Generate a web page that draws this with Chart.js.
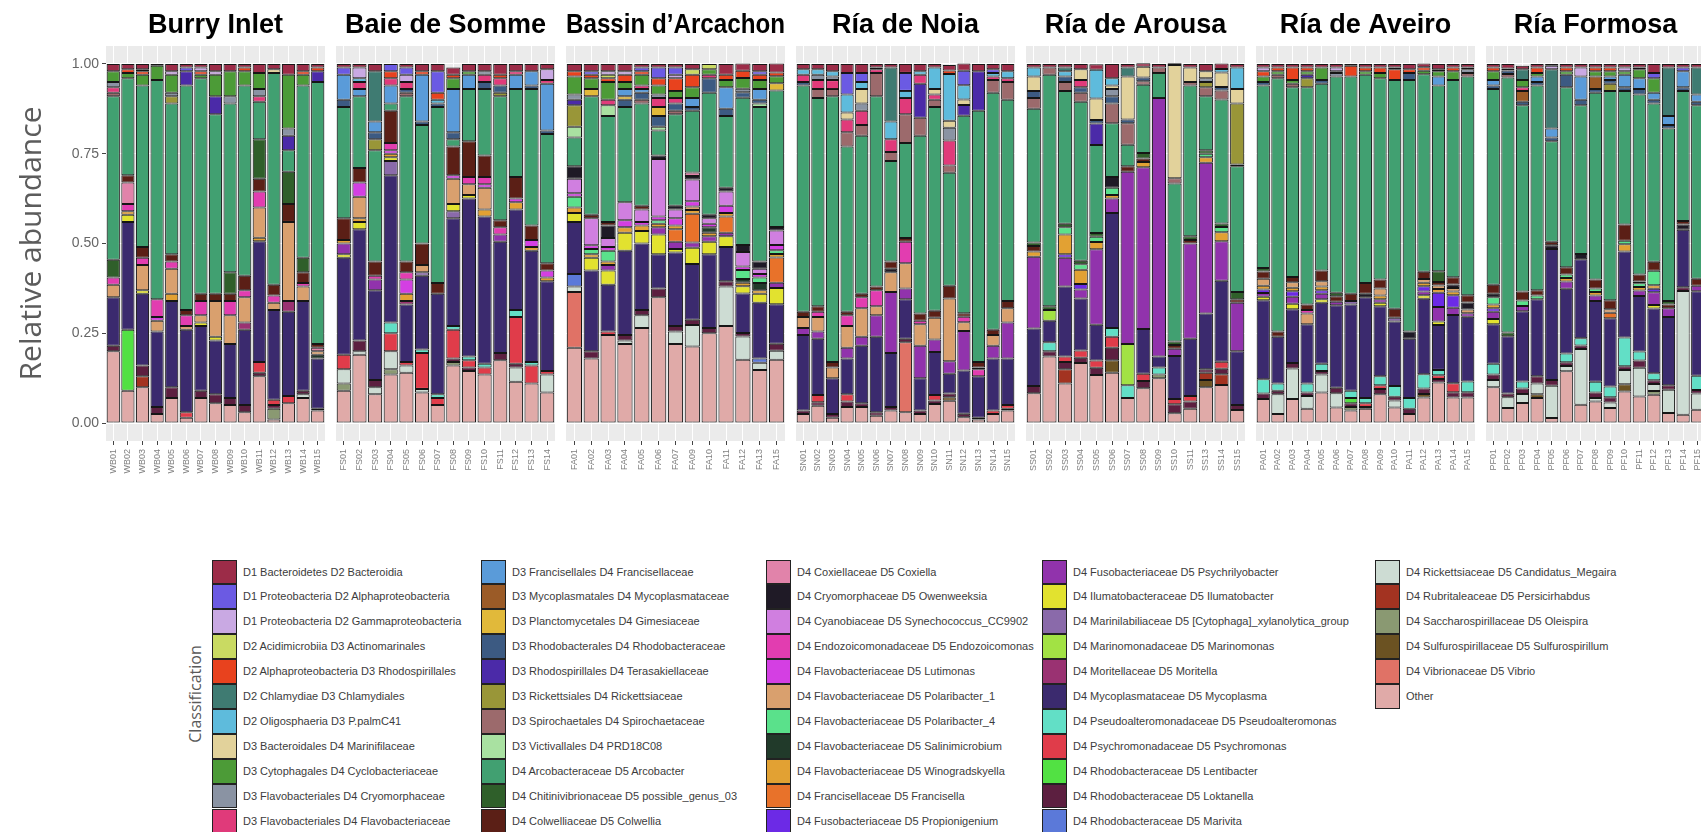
<!DOCTYPE html>
<html>
<head>
<meta charset="utf-8">
<title>Relative abundance by site</title>
<script src="https://cdn.jsdelivr.net/npm/chart.js@4.4.1/dist/chart.umd.min.js"></script>
<style>
  html, body { margin: 0; padding: 0; background: #fff; }
  body { position: relative; width: 1701px; height: 832px; overflow: hidden; font-family: "Liberation Sans", Arial, sans-serif; }
  canvas.panel { position: absolute; top: 0; }
  .key { position: absolute; width: 25px; height: 24.9px; box-sizing: border-box; border: 1px solid #222; }
  .lab { position: absolute; font-size: 11px; color: #3c3c3c; white-space: nowrap; line-height: 24.9px; }
  #legendTitle { position: absolute; left: 195px; top: 694px; transform: translate(-50%, -50%) rotate(-90deg); font: 16px "Open Sans"; color: #595959; white-space: nowrap; }
</style>
</head>
<body>
<div id="legendTitle">Classification</div>
<script>
// taxa, top of the stack first (legend order)
const taxa = [
  'D1 Bacteroidetes D2 Bacteroidia', 'D1 Proteobacteria D2 Alphaproteobacteria', 'D1 Proteobacteria D2 Gammaproteobacteria',
  'D2 Acidimicrobiia D3 Actinomarinales', 'D2 Alphaproteobacteria D3 Rhodospirillales', 'D2 Chlamydiae D3 Chlamydiales',
  'D2 Oligosphaeria D3 P.palmC41', 'D3 Bacteroidales D4 Marinifilaceae', 'D3 Cytophagales D4 Cyclobacteriaceae',
  'D3 Flavobacteriales D4 Cryomorphaceae', 'D3 Flavobacteriales D4 Flavobacteriaceae',
  'D3 Francisellales D4 Francisellaceae', 'D3 Mycoplasmatales D4 Mycoplasmataceae', 'D3 Planctomycetales D4 Gimesiaceae',
  'D3 Rhodobacterales D4 Rhodobacteraceae', 'D3 Rhodospirillales D4 Terasakiellaceae', 'D3 Rickettsiales D4 Rickettsiaceae',
  'D3 Spirochaetales D4 Spirochaetaceae', 'D3 Victivallales D4 PRD18C08', 'D4 Arcobacteraceae D5 Arcobacter',
  'D4 Chitinivibrionaceae D5 possible_genus_03', 'D4 Colwelliaceae D5 Colwellia',
  'D4 Coxiellaceae D5 Coxiella', 'D4 Cryomorphaceae D5 Owenweeksia', 'D4 Cyanobiaceae D5 Synechococcus_CC9902',
  'D4 Endozoicomonadaceae D5 Endozoicomonas', 'D4 Flavobacteriaceae D5 Lutimonas', 'D4 Flavobacteriaceae D5 Polaribacter_1',
  'D4 Flavobacteriaceae D5 Polaribacter_4', 'D4 Flavobacteriaceae D5 Salinimicrobium', 'D4 Flavobacteriaceae D5 Winogradskyella',
  'D4 Francisellaceae D5 Francisella', 'D4 Fusobacteriaceae D5 Propionigenium',
  'D4 Fusobacteriaceae D5 Psychrilyobacter', 'D4 Ilumatobacteraceae D5 Ilumatobacter',
  'D4 Marinilabiliaceae D5 [Cytophaga]_xylanolytica_group', 'D4 Marinomonadaceae D5 Marinomonas',
  'D4 Moritellaceae D5 Moritella', 'D4 Mycoplasmataceae D5 Mycoplasma', 'D4 Pseudoalteromonadaceae D5 Pseudoalteromonas',
  'D4 Psychromonadaceae D5 Psychromonas', 'D4 Rhodobacteraceae D5 Lentibacter', 'D4 Rhodobacteraceae D5 Loktanella',
  'D4 Rhodobacteraceae D5 Marivita',
  'D4 Rickettsiaceae D5 Candidatus_Megaira', 'D4 Rubritaleaceae D5 Persicirhabdus', 'D4 Saccharospirillaceae D5 Oleispira',
  'D4 Sulfurospirillaceae D5 Sulfurospirillum', 'D4 Vibrionaceae D5 Vibrio', 'Other'
];
const taxonKeys = ['Bac','Alp','Gam','Act','Rsp','Chl','Pal','Mfl','Cyc','Cry','Fla','Fcc','Mpc','Gim','Rhb','Ter','Ric','Spi','Prd','Arc',
  'Pg3','Col','Cox','Owe','Syn','End','Lut','Po1','Po4','Sal','Win','Fra','Pro','Psl','Ilu','Cyt','Mar','Mor','Myc','Pse',
  'Psy','Len','Lok','Mrv','Meg','Per','Ole','Sul','Vib','Oth'];
const taxonColors = ['#9c2c48','#6b5ae3','#c9a9e3','#c9da62','#e8421e','#3f7b72','#5ebbdc','#e2d29b','#4c9b37','#8a93a3','#e03a7a',
  '#5a9bd9','#9b5b27','#e1b93a','#3c5a82','#4b2aa8','#999638','#9c6a6c','#a9e1a1','#41a071','#2f5f2a','#5b1f16',
  '#e183aa','#1f1a26','#d07fe0','#e23db0','#d43fe3','#d9a06e','#5ae18b','#213a2a','#e2a133','#e8722a','#6c2ae6',
  '#9133ac','#e2e22f','#8a6aaa','#a2e244','#9a3272','#3b2a6e','#62dfc6','#e03c4a','#52e143','#5c1f40','#5b79d9',
  '#cddcd3','#a33321','#8a9972','#6b5222','#e07266','#e0aaa8'];

const siteNames = ['Burry Inlet', 'Baie de Somme', 'Bassin d’Arcachon', 'Ría de Noia', 'Ría de Arousa', 'Ría de Aveiro', 'Ría Formosa'];

const burrySamples = ['WB01','WB02','WB03','WB04','WB05','WB06','WB07','WB08','WB09','WB10','WB11','WB12','WB13','WB14','WB15'];
const sommeSamples = ['FS01','FS02','FS03','FS04','FS05','FS06','FS07','FS08','FS09','FS10','FS11','FS12','FS13','FS14'];
const arcachonSamples = ['FA01','FA02','FA03','FA04','FA05','FA06','FA07','FA09','FA10','FA11','FA12','FA13','FA15'];
const noiaSamples = ['SN01','SN02','SN03','SN04','SN05','SN06','SN07','SN08','SN09','SN10','SN11','SN12','SN13','SN14','SN15'];
const arousaSamples = ['SS01','SS02','SS03','SS04','SS05','SS06','SS07','SS08','SS09','SS10','SS11','SS13','SS14','SS15'];
const aveiroSamples = ['PA01','PA02','PA03','PA04','PA05','PA06','PA07','PA08','PA09','PA10','PA11','PA12','PA13','PA14','PA15'];
const formosaSamples = ['PF01','PF02','PF03','PF04','PF05','PF06','PF07','PF08','PF09','PF10','PF11','PF12','PF13','PF14','PF15'];

const yTicks = [0, 0.25, 0.5, 0.75, 1];

// relative abundance per sample (only taxa that show up in a bar)
const burryInlet = [
  {Oth:.20, Lok:.015, Myc:.135, Po1:.035, End:.02, Pg3:.05, Arc:.455, Spi:.01, Fla:.015, Cyc:.03, Cry:.015, Bac:.02},
  {Oth:.09, Len:.17, Myc:.30, Ilu:.02, Win:.01, Cox:.06, End:.02, Col:.02, Arc:.27, Cyc:.015, Rsp:.01, Bac:.015},
  {Oth:.10, Per:.03, Lok:.03, Myc:.20, Ilu:.01, Po1:.07, End:.02, Col:.03, Arc:.45, Cyc:.03, Gam:.005, Rsp:.01, Bac:.015},
  {Oth:.025, Lok:.02, Myc:.21, Po1:.03, End:.05, Lut:.01, Arc:.61, Cyc:.04, Bac:.005},
  {Oth:.07, Lok:.03, Myc:.24, Win:.02, Po1:.07, End:.02, Col:.02, Arc:.42, Ric:.02, Cyc:.05, Cry:.01, Gam:.01, Bac:.02},
  {Oth:.015, Psy:.015, Myc:.23, Po1:.01, End:.03, Col:.015, Arc:.625, Ter:.04, Alp:.01, Bac:.01},
  {Oth:.07, Lok:.02, Myc:.18, Ilu:.01, Po1:.02, End:.04, Col:.02, Arc:.60, Rsp:.01, Cyc:.01, Gam:.01, Bac:.01},
  {Oth:.055, Lok:.025, Myc:.15, Ilu:.01, Po1:.10, Col:.02, Arc:.50, Ter:.05, Gam:.01, Cyc:.06, Bac:.02},
  {Oth:.05, Lok:.02, Myc:.15, Po1:.08, End:.04, Col:.02, Pg3:.06, Arc:.47, Cry:.02, Cyc:.07, Bac:.02},
  {Oth:.03, Lok:.02, Myc:.21, Mor:.02, Po1:.07, End:.02, Col:.04, Arc:.53, Cyc:.04, Rsp:.01, Bac:.01},
  {Oth:.13, Psy:.03, Lok:.01, Myc:.336, Win:.01, Po1:.084, End:.045, Col:.035, Pg3:.11, Arc:.105, Cry:.02, Fla:.015, Cyc:.045, Bac:.025},
  {Oth:.01, Ole:.03, Lok:.01, Psy:.015, Myc:.25, Po1:.02, End:.02, Col:.03, Arc:.59, Mfl:.01, Bac:.015},
  {Oth:.055, Psy:.02, Myc:.235, Mor:.03, Po1:.22, Col:.05, Pg3:.09, Arc:.06, Ter:.04, Cry:.02, Cyc:.15, Bac:.03},
  {Oth:.07, Meg:.01, Lok:.01, Myc:.25, Po1:.04, End:.01, Col:.03, Pg3:.04, Arc:.48, Cyc:.03, Rsp:.01, Bac:.02},
  {Oth:.035, Lok:.005, Myc:.14, Sal:.01, Po1:.01, Cox:.01, Col:.01, Arc:.73, Ter:.03, Rsp:.01, Bac:.01}
];
const baieDeSomme = [
  {Oth:.09, Ole:.02, Meg:.04, Psy:.04, Myc:.27, Ilu:.01, Psl:.03, Win:.01, Col:.06, Arc:.31, Rhb:.02, Fcc:.07, Alp:.02, Bac:.01},
  {Oth:.19, Meg:.01, Lok:.03, Myc:.31, Ilu:.02, Win:.01, Po1:.06, Lut:.04, Col:.04, Arc:.20, Fcc:.02, Fla:.02, Pal:.01, Gam:.03, Bac:.01},
  {Oth:.08, Meg:.02, Lok:.02, Myc:.25, Psl:.03, End:.01, Col:.04, Arc:.31, Ric:.03, Rhb:.02, Fcc:.03, Chl:.14, Bac:.02},
  {Oth:.135, Ole:.015, Meg:.05, Psy:.05, Pse:.03, Myc:.41, Cyt:.04, Ilu:.01, Win:.01, End:.02, Lut:.01, Col:.09, Arc:.02, Fcc:.05, Fla:.02, Rsp:.02, Alp:.02},
  {Oth:.14, Meg:.02, Psy:.01, Myc:.16, Mor:.01, Win:.02, Lut:.04, End:.02, Col:.03, Arc:.46, Spi:.01, Rhb:.01, Fla:.02, Alp:.02, Gam:.02, Bac:.01},
  {Oth:.085, Meg:.01, Psy:.10, Pse:.01, Myc:.205, Cyt:.01, Po1:.02, Col:.06, Arc:.33, Rhb:.01, Fcc:.13, Rsp:.01, Bac:.02},
  {Oth:.05, Psy:.02, Pse:.01, Myc:.28, Col:.03, Arc:.49, Rhb:.01, Pal:.01, Rsp:.02, Alp:.06, Bac:.02},
  {Oth:.16, Ole:.01, Lok:.01, Psy:.08, Pse:.01, Myc:.30, Cyt:.02, Ilu:.02, Po1:.07, Lut:.01, Col:.08, Arc:.02, Rhb:.02, Fcc:.12, Cyc:.03, Rsp:.01, Bac:.02},
  {Oth:.145, Lok:.01, Psy:.02, Pse:.01, Myc:.44, Ilu:.01, Po1:.03, End:.02, Col:.10, Arc:.145, Fcc:.04, Cyc:.01, Bac:.02},
  {Oth:.135, Psy:.02, Pse:.01, Myc:.41, Win:.02, Po1:.06, End:.02, Lut:.01, Col:.06, Arc:.185, Rhb:.02, Fla:.02, Cry:.01, Bac:.02},
  {Oth:.175, Lok:.02, Myc:.31, Psl:.02, End:.02, Col:.02, Arc:.345, Ric:.01, Rhb:.02, Fla:.02, Rsp:.01, Bac:.03},
  {Oth:.115, Meg:.04, Lok:.01, Psy:.13, Pse:.02, Myc:.28, Win:.02, Lut:.01, Col:.06, Arc:.245, Fcc:.04, Fla:.01, Bac:.02},
  {Oth:.11, Psy:.05, Pse:.01, Myc:.31, Win:.01, Lut:.02, Col:.04, Arc:.38, Rhb:.01, Fcc:.04, Bac:.02},
  {Oth:.085, Meg:.05, Psy:.01, Myc:.25, Win:.01, Lut:.02, Col:.02, Arc:.36, Rhb:.01, Fcc:.13, Fla:.01, Gam:.03, Bac:.015}
];
const bassinArcachon = [
  {Oth:.21, Vib:.155, Meg:.015, Mrv:.035, Myc:.145, Ilu:.025, Win:.015, Po4:.03, Lut:.01, Syn:.04, Owe:.035, Arc:.08, Prd:.03, Ric:.06, Ter:.015, Cry:.015, Cyc:.05, Rsp:.015, Bac:.02},
  {Oth:.18, Lok:.02, Myc:.225, Ilu:.035, Win:.01, Po4:.015, Lut:.01, Syn:.075, Col:.01, Arc:.33, Gim:.02, Cyc:.03, Rsp:.01, Alp:.01, Bac:.02},
  {Oth:.245, Psy:.01, Myc:.13, Ilu:.04, Psl:.015, Win:.01, Po4:.03, Lut:.01, Syn:.025, Owe:.035, Col:.01, Arc:.295, Prd:.03, Fla:.015, Cyc:.05, Rsp:.01, Act:.01, Gam:.01, Bac:.02},
  {Oth:.22, Meg:.01, Lok:.015, Myc:.235, Ilu:.05, Win:.015, Lut:.02, Syn:.05, Arc:.265, Rhb:.02, Gim:.01, Fcc:.02, Cyc:.02, Rsp:.02, Gam:.01, Bac:.02},
  {Oth:.265, Meg:.035, Lok:.015, Myc:.185, Ilu:.035, Win:.015, Lut:.01, Syn:.035, Col:.01, Arc:.285, Spi:.01, Rhb:.02, Fcc:.01, Fla:.01, Cyc:.03, Rsp:.01, Alp:.01, Bac:.01},
  {Oth:.35, Lok:.025, Myc:.095, Ilu:.055, Psl:.02, Win:.01, Po4:.01, Lut:.01, Syn:.16, Owe:.01, Arc:.07, Prd:.01, Rhb:.03, Gim:.025, Fla:.025, Cry:.01, Cyc:.025, Rsp:.02, Alp:.03, Bac:.01},
  {Oth:.22, Meg:.035, Lok:.015, Myc:.205, Psl:.02, Ilu:.01, Win:.01, Fra:.035, Lut:.02, Syn:.025, Owe:.01, Arc:.255, Spi:.01, Rhb:.02, Fla:.015, Cyc:.02, Rsp:.035, Gam:.01, Alp:.02, Bac:.01},
  {Oth:.213, Meg:.06, Lok:.015, Myc:.155, Psl:.015, Ilu:.045, Win:.01, Fra:.08, Po1:.01, Lut:.015, Syn:.06, Cox:.01, Owe:.01, Arc:.172, Rhb:.01, Fcc:.025, Cyc:.03, Rsp:.035, Act:.015, Bac:.015},
  {Oth:.25, Lok:.015, Myc:.205, Ilu:.035, Psl:.015, Win:.01, Lut:.01, Syn:.015, Sal:.015, Owe:.01, Arc:.34, Rhb:.04, Fla:.01, Cyc:.015, Act:.015},
  {Oth:.27, Meg:.11, Lok:.015, Myc:.095, Ilu:.03, Psl:.01, Win:.01, Fra:.045, Lut:.02, Syn:.04, Owe:.01, Arc:.20, Rhb:.02, Fcc:.06, Cyc:.02, Rsp:.015, Bac:.03},
  {Oth:.176, Meg:.065, Lok:.01, Myc:.11, Ilu:.02, Win:.01, Sal:.01, Po4:.025, Lut:.01, Syn:.04, Owe:.02, Arc:.41, Rhb:.015, Cry:.01, Cyc:.03, Rsp:.02, Bac:.02},
  {Oth:.148, Meg:.02, Mrv:.012, Myc:.155, Ilu:.025, Win:.01, Sal:.02, Po4:.015, Lut:.01, Syn:.015, Owe:.02, Arc:.43, Prd:.01, Rhb:.01, Fcc:.03, Cyc:.025, Rsp:.015, Alp:.01, Bac:.02},
  {Oth:.176, Meg:.025, Lok:.02, Myc:.11, Ilu:.045, Psl:.015, Win:.01, Fra:.07, Lut:.015, Po4:.01, Syn:.04, Owe:.01, Arc:.38, Gim:.02, Cyc:.02, Rsp:.01, Bac:.025}
];
const riaNoia = [
  {Oth:.025, Lok:.01, Myc:.21, Psl:.02, Po1:.03, Col:.015, Arc:.63, Rhb:.01, Fla:.02, Pal:.015, Bac:.015},
  {Oth:.048, Lok:.01, Psy:.02, Myc:.157, Psl:.02, Po1:.04, End:.015, Col:.015, Arc:.58, Spi:.025, Fla:.025, Cry:.015, Pal:.015, Bac:.015},
  {Oth:.015, Lok:.01, Myc:.10, Po1:.03, Col:.015, Arc:.74, Spi:.02, Fla:.025, Cry:.01, Pal:.015, Bac:.02},
  {Oth:.045, Psy:.02, Lok:.015, Myc:.10, Psl:.03, Po1:.06, End:.03, Col:.01, Arc:.46, Spi:.04, Fla:.035, Mfl:.02, Pal:.05, Alp:.06, Bac:.025},
  {Oth:.045, Lok:.01, Myc:.16, Psl:.025, Po1:.08, End:.03, Col:.01, Arc:.44, Spi:.03, Fla:.04, Cry:.02, Mfl:.04, Pal:.02, Alp:.025, Bac:.025},
  {Oth:.02, Lok:.01, Myc:.21, Psl:.06, Po1:.025, End:.045, Col:.01, Arc:.53, Spi:.065, Fla:.01, Pal:.005, Bac:.01},
  {Oth:.035, Lok:.01, Myc:.15, Psl:.17, Po1:.055, Owe:.01, Col:.02, Arc:.28, Spi:.025, Fla:.035, Pal:.05, Chl:.15, Bac:.01},
  {Oth:.03, Vib:.195, Lok:.01, Myc:.11, Psl:.03, Po1:.07, End:.06, Col:.01, Arc:.265, Spi:.08, Fla:.045, Pal:.02, Alp:.05, Bac:.025},
  {Oth:.025, Lok:.01, Myc:.09, Psl:.09, Po1:.06, End:.01, Col:.02, Arc:.495, Spi:.05, Ter:.095, Fla:.025, Pal:.01, Bac:.02},
  {Oth:.053, Lok:.01, Psy:.015, Myc:.12, Psl:.035, Po1:.06, Col:.02, Arc:.567, Spi:.02, Fla:.015, Mfl:.015, Pal:.06, Bac:.01},
  {Oth:.062, Sul:.01, Lok:.01, Myc:.055, Psl:.035, Po1:.175, Col:.035, Arc:.315, Spi:.02, Fla:.07, Cry:.035, Mfl:.02, Pal:.13, Rsp:.01, Bac:.015},
  {Oth:.016, Lok:.01, Myc:.12, Psl:.11, Po1:.025, End:.015, Col:.01, Arc:.55, Ter:.03, Mfl:.015, Pal:.04, Alp:.04, Bac:.02},
  {Oth:.01, Lok:.005, Myc:.115, End:.02, Owe:.005, Col:.015, Arc:.70, Ter:.11, Bac:.02},
  {Oth:.025, Psy:.01, Myc:.145, Psl:.035, Po1:.03, Col:.015, Arc:.66, Spi:.035, Fla:.01, Pal:.01, Alp:.01, Bac:.015},
  {Oth:.035, Psy:.01, Lok:.005, Myc:.13, Psl:.10, Po1:.04, Col:.02, Arc:.56, Spi:.05, Fla:.01, Pal:.02, Bac:.02}
];
const riaArousa = [
  {Oth:.083, Lok:.02, Myc:.16, Psl:.20, Win:.015, Col:.015, Pg3:.01, Arc:.372, Spi:.03, Rhb:.02, Mfl:.04, Pal:.025, Bac:.01},
  {Oth:.185, Lok:.015, Pse:.025, Myc:.06, Mar:.03, Pg3:.01, Arc:.645, Spi:.02, Bac:.01},
  {Oth:.11, Per:.04, Lok:.02, Psy:.015, Myc:.195, Psl:.08, Pro:.01, Win:.055, Po4:.02, Pg3:.01, Arc:.37, Spi:.025, Rhb:.015, Pal:.015, Chl:.01, Bac:.01},
  {Oth:.167, Lok:.015, Psy:.02, Myc:.145, Psl:.025, Pro:.015, Win:.04, Po4:.015, Pg3:.01, Arc:.443, Spi:.025, Rhb:.015, Fla:.02, Mfl:.03, Bac:.015},
  {Oth:.134, Lok:.02, Psy:.02, Myc:.10, Psl:.21, Win:.02, Po4:.015, Pg3:.01, Arc:.245, Ter:.06, Rhb:.01, Mfl:.06, Pal:.08, Bac:.015},
  {Oth:.14, Sul:.035, Lok:.035, Psy:.03, Pse:.025, Myc:.32, Psl:.04, Win:.01, Po4:.02, Owe:.03, Arc:.15, Spi:.055, Rhb:.02, Cry:.02, Mfl:.01, Pal:.02, Bac:.04},
  {Oth:.07, Pse:.035, Mar:.115, Psl:.48, Col:.015, Arc:.06, Spi:.06, Rhb:.01, Mfl:.12, Chl:.025, Bac:.01},
  {Oth:.097, Lok:.02, Psy:.02, Myc:.125, Psl:.45, Win:.015, Col:.01, Pg3:.015, Arc:.19, Spi:.01, Rhb:.01, Mfl:.03, Bac:.01},
  {Oth:.125, Ole:.01, Pse:.02, Myc:.03, Psl:.72, Arc:.07, Spi:.015, Bac:.01},
  {Oth:.027, Lok:.025, Psy:.015, Myc:.12, Psl:.02, Col:.01, Pg3:.01, Arc:.44, Spi:.015, Mfl:.315, Bac:.005},
  {Oth:.04, Lok:.02, Psy:.015, Myc:.16, Psl:.265, Col:.01, Pg3:.01, Arc:.42, Spi:.01, Mfl:.04, Bac:.01},
  {Oth:.10, Sul:.02, Per:.02, Lok:.01, Myc:.155, Psl:.42, Win:.015, Po4:.01, Pg3:.01, Arc:.15, Spi:.025, Ric:.015, Cry:.01, Mfl:.02, Bac:.02},
  {Oth:.106, Per:.03, Lok:.015, Psy:.02, Myc:.225, Psl:.11, Win:.025, Po4:.015, Pg3:.01, Arc:.345, Spi:.025, Rhb:.01, Mfl:.04, Pal:.01, Bac:.015},
  {Oth:.036, Lok:.014, Myc:.15, Psl:.135, Col:.01, Pg3:.02, Arc:.35, Spi:.005, Ric:.17, Mfl:.04, Pal:.06, Bac:.01}
];
const riaAveiro = [
  {Oth:.067, Lok:.015, Pse:.04, Myc:.22, Psl:.01, Ilu:.01, Pro:.01, Win:.01, Po1:.02, Col:.02, Pg3:.01, Arc:.508, Rhb:.01, Cyc:.015, Rsp:.015, Gam:.01, Bac:.01},
  {Oth:.025, Meg:.055, Lok:.01, Pse:.02, Myc:.13, Col:.015, Arc:.705, Spi:.01, Cyc:.01, Rsp:.01, Bac:.01},
  {Oth:.067, Meg:.085, Lok:.015, Myc:.15, Ilu:.015, Psl:.02, Pro:.015, Win:.01, Po1:.015, Col:.015, Arc:.528, Spi:.01, Cyc:.01, Rsp:.035, Bac:.01},
  {Oth:.04, Meg:.035, Lok:.01, Pse:.025, Myc:.165, Po1:.03, End:.01, Col:.015, Arc:.605, Ric:.025, Ter:.01, Cyc:.01, Rsp:.01, Bac:.01},
  {Oth:.085, Meg:.05, Lok:.01, Pse:.02, Myc:.17, Ilu:.01, Psl:.015, Pro:.01, Win:.01, Po1:.015, Col:.03, Arc:.52, Rhb:.01, Cyc:.035, Bac:.01},
  {Oth:.043, Meg:.04, Lok:.015, Myc:.23, Psl:.01, Pg3:.01, Col:.015, Arc:.602, Cry:.01, Rsp:.005, Gam:.01, Bac:.01},
  {Oth:.035, Ole:.01, Lok:.01, Len:.015, Pse:.02, Myc:.24, Cyt:.01, Col:.02, Arc:.605, Rsp:.03, Bac:.005},
  {Oth:.04, Lok:.005, Psy:.01, Pse:.015, Myc:.28, Owe:.01, Col:.03, Arc:.58, Cyc:.01, Rsp:.01, Bac:.01},
  {Oth:.08, Lok:.015, Psy:.01, Pse:.025, Myc:.195, Ilu:.01, Psl:.01, Po1:.02, Win:.01, Col:.025, Arc:.56, Cyc:.015, Rsp:.015, Bac:.01},
  {Oth:.043, Meg:.02, Lok:.01, Pse:.03, Myc:.18, Cyt:.01, Col:.025, Arc:.637, Rsp:.03, Alp:.005, Bac:.01},
  {Oth:.025, Lok:.015, Pse:.03, Myc:.165, Owe:.02, Arc:.70, Rhb:.02, Rsp:.01, Bac:.015},
  {Oth:.071, Sul:.01, Lok:.015, Pse:.04, Myc:.21, Ilu:.01, Psl:.01, Pro:.015, Win:.01, Po1:.01, Col:.02, Arc:.55, Cyc:.01, Rsp:.01, Bac:.01},
  {Oth:.113, Lok:.01, Psy:.01, Pse:.015, Myc:.125, Ilu:.01, Psl:.04, Pro:.04, Win:.01, Po1:.01, Col:.01, Pg3:.03, Arc:.517, Fcc:.025, Cyc:.015, Rsp:.005, Bac:.015},
  {Oth:.071, Lok:.015, Psy:.025, Myc:.19, Psl:.02, Pro:.035, Win:.01, Po1:.01, Owe:.01, Col:.02, Arc:.549, Cyc:.025, Rsp:.01, Bac:.01},
  {Oth:.071, Lok:.015, Pse:.03, Myc:.18, Psl:.01, Po1:.01, Owe:.02, Col:.02, Arc:.609, Spi:.01, Cry:.01, Rsp:.005, Bac:.01}
];
const riaFormosa = [
  {Oth:.10, Meg:.02, Lok:.015, Pse:.03, Myc:.11, Ilu:.015, Psl:.02, Pro:.01, Win:.01, Po4:.02, Owe:.01, Col:.025, Arc:.545, Rhb:.01, Fcc:.015, Cyc:.025, Rsp:.01, Bac:.01},
  {Oth:.042, Meg:.03, Lok:.01, Myc:.16, Pg3:.01, Arc:.71, Spi:.01, Rhb:.01, Fla:.005, Bac:.013},
  {Oth:.056, Meg:.025, Lok:.015, Pse:.02, Myc:.195, Psl:.015, Po4:.015, Col:.025, Arc:.519, Rhb:.01, Mpc:.03, Fla:.01, Cyc:.02, Chl:.03, Bac:.01},
  {Oth:.07, Sul:.01, Meg:.03, Lok:.02, Myc:.215, Po4:.01, Col:.015, Arc:.57, Rhb:.01, Fcc:.015, Cyc:.01, Rsp:.015, Bac:.01},
  {Oth:.014, Meg:.09, Lok:.016, Myc:.365, Owe:.01, Col:.01, Arc:.28, Rhb:.01, Fcc:.025, Chl:.165, Gam:.01, Bac:.005},
  {Oth:.144, Meg:.015, Lok:.01, Pse:.025, Myc:.18, Psl:.02, Win:.01, Po4:.01, Col:.02, Arc:.501, Rhb:.035, Cyc:.01, Rsp:.01, Bac:.01},
  {Oth:.051, Meg:.155, Lok:.01, Pse:.02, Myc:.22, Owe:.015, Arc:.414, Rhb:.015, Fcc:.065, Gam:.025, Bac:.01},
  {Oth:.06, Meg:.01, Lok:.015, Pse:.03, Myc:.225, Psl:.015, Win:.01, Po4:.01, Col:.025, Arc:.52, Rhb:.01, Mpc:.035, Cyc:.015, Rsp:.01, Bac:.01},
  {Oth:.042, Meg:.015, Lok:.015, Pse:.03, Myc:.19, Fra:.015, Po1:.01, Col:.025, Arc:.583, Ric:.02, Rhb:.01, Fcc:.01, Cyc:.015, Rsp:.01, Bac:.01},
  {Oth:.088, Sul:.02, Meg:.04, Lok:.01, Pse:.08, Myc:.24, Win:.02, Po4:.01, Col:.045, Arc:.372, Rhb:.01, Fcc:.035, Cyc:.01, Gam:.01, Bac:.01},
  {Oth:.074, Meg:.08, Lok:.02, Pse:.025, Myc:.155, Psl:.015, Win:.01, Po4:.01, Owe:.005, Col:.02, Arc:.501, Rhb:.015, Fcc:.03, Cyc:.025, Rsp:.005, Bac:.01},
  {Oth:.079, Ole:.01, Meg:.02, Lok:.01, Pse:.02, Myc:.18, Psl:.035, Pro:.01, Ilu:.01, Win:.01, Po4:.04, Col:.025, Arc:.441, Rhb:.01, Fcc:.02, Cyc:.04, Alp:.015, Bac:.025},
  {Oth:.028, Meg:.065, Lok:.012, Myc:.19, Psl:.025, Pg3:.01, Col:.01, Arc:.48, Rhb:.01, Fcc:.025, Chl:.135, Bac:.01},
  {Oth:.023, Meg:.345, Lok:.01, Myc:.16, Owe:.015, Col:.01, Arc:.362, Rhb:.01, Fcc:.045, Alp:.01, Bac:.01},
  {Oth:.037, Meg:.045, Lok:.01, Pse:.04, Myc:.235, Psl:.015, Col:.02, Arc:.483, Rhb:.01, Fcc:.02, Chl:.075, Bac:.01}
];

const siteSamples = [burrySamples, sommeSamples, arcachonSamples, noiaSamples, arousaSamples, aveiroSamples, formosaSamples];
const siteData = [burryInlet, baieDeSomme, bassinArcachon, riaNoia, riaArousa, riaAveiro, riaFormosa];

// layout of the facets
const PANEL_LEFT = 106;
const PANEL_STEP = 230;
const PANEL_WIDTH = 219;
const CANVAS_H = 480;
const PLOT_BOTTOM = 441;

// grey panel background like ggplot
const panelBg = {
  id: 'panelBg',
  beforeDraw(chart) {
    const { ctx, chartArea: a } = chart;
    ctx.save();
    ctx.fillStyle = '#ebebeb';
    ctx.fillRect(a.left, a.top, a.width, a.height);
    ctx.restore();
  }
};

function makePanel(i) {
  const first = i === 0;
  const left = PANEL_LEFT + i * PANEL_STEP;
  const canvas = document.createElement('canvas');
  canvas.className = 'panel';
  canvas.width = first ? left + PANEL_WIDTH : PANEL_WIDTH;
  canvas.height = CANVAS_H;
  canvas.style.left = (first ? 0 : left) + 'px';
  document.body.appendChild(canvas);

  const rows = siteData[i];
  // first dataset is stacked at the bottom, so reverse the legend order
  const datasets = taxonKeys.map((key, k) => ({
    label: taxa[k],
    data: rows.map(r => r[key] ?? null),
    backgroundColor: taxonColors[k],
    borderColor: '#161616',
    borderWidth: 1,
    borderSkipped: false,
    barPercentage: 0.9,
    categoryPercentage: 1
  })).reverse();

  const yAxis = first ? {
    stacked: true,
    min: -0.05,
    max: 1.05,
    afterBuildTicks: s => { s.ticks = yTicks.map(v => ({ value: v })); },
    afterFit: s => { s.width = PANEL_LEFT; s.paddingTop = 0; s.paddingBottom = 0; },
    ticks: {
      callback: v => v.toFixed(2),
      color: '#666',
      font: { family: 'Liberation Sans', size: 14 },
      padding: 3
    },
    grid: { color: '#fff', tickColor: '#444', tickLength: 4 },
    border: { display: false },
    title: {
      display: true,
      text: 'Relative abundance',
      color: '#5c5c5c',
      font: { family: 'Open Sans', size: 30 },
      padding: { top: 14, bottom: 0 }
    }
  } : {
    stacked: true,
    min: -0.05,
    max: 1.05,
    afterBuildTicks: s => { s.ticks = yTicks.map(v => ({ value: v })); },
    afterFit: s => { s.width = 0; s.paddingTop = 0; s.paddingBottom = 0; },
    ticks: { display: false },
    grid: { color: '#fff', drawTicks: false },
    border: { display: false }
  };

  new Chart(canvas, {
    type: 'bar',
    data: { labels: siteSamples[i], datasets },
    options: {
      responsive: false,
      animation: false,
      events: [],
      layout: { padding: 0 },
      plugins: {
        legend: { display: false },
        tooltip: { enabled: false },
        title: {
          display: true,
          text: siteNames[i],
          fullSize: false,
          color: '#000',
          font: { family: 'Liberation Sans', size: 27, weight: 'bold' },
          padding: { top: 9, bottom: 4.6 }
        }
      },
      scales: {
        x: {
          stacked: true,
          offset: true,
          afterFit: s => { s.height = CANVAS_H - PLOT_BOTTOM; s.paddingLeft = 0; s.paddingRight = 0; },
          grid: { offset: false, color: '#fff', tickColor: '#444', tickLength: 4 },
          border: { display: false },
          ticks: {
            autoSkip: false,
            maxRotation: 90,
            minRotation: 90,
            padding: 4,
            color: '#808080',
            font: { family: 'Liberation Sans', size: 9 }
          }
        },
        y: yAxis
      }
    },
    plugins: [panelBg]
  });
}

for (let i = 0; i < siteNames.length; i++) {
  makePanel(i);
}

// legend: 11 rows per column, column-major like the figure
const LEGEND_COLS = [212, 481, 766, 1042, 1375];
const LEGEND_TOP = 559.5;
const LEGEND_ROW = 24.9;
taxa.forEach((name, k) => {
  const col = Math.floor(k / 11);
  const row = k % 11;
  const top = LEGEND_TOP + row * LEGEND_ROW;
  const key = document.createElement('div');
  key.className = 'key';
  key.style.left = LEGEND_COLS[col] + 'px';
  key.style.top = top + 'px';
  key.style.background = taxonColors[k];
  document.body.appendChild(key);
  const lab = document.createElement('div');
  lab.className = 'lab';
  lab.style.left = (LEGEND_COLS[col] + 31) + 'px';
  lab.style.top = top + 'px';
  lab.textContent = name;
  document.body.appendChild(lab);
});
</script>
</body>
</html>
